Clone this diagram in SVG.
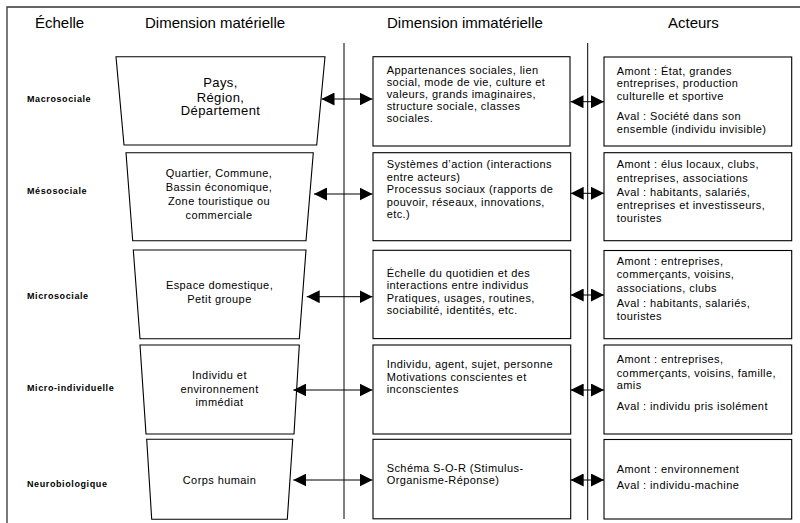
<svg xmlns="http://www.w3.org/2000/svg" width="800" height="523" viewBox="0 0 800 523">
<style>
text{font-family:"Liberation Sans",Arial,sans-serif;fill:#000}
.h{font-size:15px}
.lab{font-size:9px;font-weight:bold;letter-spacing:0.6px}
.t{font-size:11px;letter-spacing:0.42px}
.t14{font-size:13px;letter-spacing:0.4px}
.c{text-anchor:middle}
.shape{fill:#fff;stroke:#000;stroke-width:1.1}
.sep{stroke:#000;stroke-width:1;fill:none}
.arr{stroke:#000;stroke-width:1;fill:none;marker-start:url(#ah);marker-end:url(#ah)}
</style>
<defs>
<marker id="ah" markerUnits="userSpaceOnUse" markerWidth="13" markerHeight="13" refX="13" refY="6.5" orient="auto-start-reverse" viewBox="0 0 13 13">
<path d="M0,0 L13,6.5 L0,13 z" fill="#000"/>
</marker>
</defs>
<rect width="800" height="523" fill="#fff"/>
<path d="M7,530 V7 H810" fill="none" stroke="#333" stroke-width="1.3"/>
<g id="headers">
<text class="h" x="35" y="28">Échelle</text>
<text class="h" x="145" y="28">Dimension matérielle</text>
<text class="h" x="387" y="28">Dimension immatérielle</text>
<text class="h" x="668" y="28">Acteurs</text>
</g>
<g id="separators">
<line class="sep" x1="344" y1="43" x2="344" y2="519"/>
<line class="sep" x1="587.7" y1="43" x2="587.7" y2="520"/>
</g>
<g id="labels">
<text class="lab" x="27" y="101.5">Macrosociale</text>
<text class="lab" x="27" y="194">Mésosociale</text>
<text class="lab" x="27" y="299.3">Microsociale</text>
<text class="lab" x="27" y="390.7">Micro-individuelle</text>
<text class="lab" x="27" y="486.7">Neurobiologique</text>
</g>
<g id="mat-macro">
<polygon class="shape" points="116,56.7 325,56.7 316.7,145 124,145"/>
<text class="t14 c" x="220.5" y="87.3">Pays,</text>
<text class="t14 c" x="220.5" y="101.5">Région,</text>
<text class="t14 c" x="220.5" y="115.3">Département</text>
</g>
<g id="mat-meso">
<polygon class="shape" points="126,152.7 313.3,152.7 306,240.7 132.7,240.7"/>
<text class="t c" x="219" y="177.3">Quartier, Commune,</text>
<text class="t c" x="219" y="191.3">Bassin économique,</text>
<text class="t c" x="219" y="205.3">Zone touristique ou</text>
<text class="t c" x="219" y="219.3">commerciale</text>
</g>
<g id="mat-micro">
<polygon class="shape" points="133.3,250 306,250 299.3,338.7 140,338.7"/>
<text class="t c" x="219.5" y="289.3">Espace domestique,</text>
<text class="t c" x="219.5" y="302.7">Petit groupe</text>
</g>
<g id="mat-indiv">
<polygon class="shape" points="140,345 299.3,345 294,434 146,434"/>
<text class="t c" x="219.5" y="378.5">Individu et</text>
<text class="t c" x="219.5" y="392.5">environnement</text>
<text class="t c" x="219.5" y="406.3">immédiat</text>
</g>
<g id="mat-neuro">
<polygon class="shape" points="146.7,439.3 292.7,439.3 287.3,519.3 151.7,519.3"/>
<text class="t c" x="219.5" y="484">Corps humain</text>
</g>
<g id="imm-macro">
<rect class="shape" x="373" y="56.7" width="197" height="89.3"/>
<text class="t" x="386.7" y="74">Appartenances sociales, lien</text>
<text class="t" x="386.7" y="86">social, mode de vie, culture et</text>
<text class="t" x="386.7" y="97.8">valeurs, grands imaginaires,</text>
<text class="t" x="386.7" y="109.6">structure sociale, classes</text>
<text class="t" x="386.7" y="121.6">sociales.</text>
</g>
<g id="imm-meso">
<rect class="shape" x="373" y="152.7" width="197.7" height="88"/>
<text class="t" x="386.7" y="168.3">Systèmes d’action (interactions</text>
<text class="t" x="386.7" y="180.7">entre acteurs)</text>
<text class="t" x="386.7" y="193.2">Processus sociaux (rapports de</text>
<text class="t" x="386.7" y="205.7">pouvoir, réseaux, innovations,</text>
<text class="t" x="386.7" y="218.2">etc.)</text>
</g>
<g id="imm-micro">
<rect class="shape" x="373" y="250.3" width="197.7" height="88.3"/>
<text class="t" x="386.7" y="276.7">Échelle du quotidien et des</text>
<text class="t" x="386.7" y="289.1">interactions entre individus</text>
<text class="t" x="386.7" y="301.6">Pratiques, usages, routines,</text>
<text class="t" x="386.7" y="314">sociabilité, identités, etc.</text>
</g>
<g id="imm-indiv">
<rect class="shape" x="373" y="345" width="197.7" height="89"/>
<text class="t" x="386.7" y="368.3">Individu, agent, sujet, personne</text>
<text class="t" x="386.7" y="380.7">Motivations conscientes et</text>
<text class="t" x="386.7" y="393.2">inconscientes</text>
</g>
<g id="imm-neuro">
<rect class="shape" x="373" y="439.3" width="197.7" height="79.5"/>
<text class="t" x="386.7" y="471.7">Schéma S-O-R (Stimulus-</text>
<text class="t" x="386.7" y="484.1">Organisme-Réponse)</text>
</g>
<g id="act-macro">
<rect class="shape" x="604" y="57" width="187.7" height="89"/>
<text class="t" x="616.7" y="75">Amont : État, grandes</text>
<text class="t" x="616.7" y="87.4">entreprises, production</text>
<text class="t" x="616.7" y="100">culturelle et sportive</text>
<text class="t" x="616.7" y="120">Aval : Société dans son</text>
<text class="t" x="616.7" y="132.6">ensemble (individu invisible)</text>
</g>
<g id="act-meso">
<rect class="shape" x="604" y="152.7" width="187.7" height="88"/>
<text class="t" x="616.7" y="168.3">Amont : élus locaux, clubs,</text>
<text class="t" x="616.7" y="181.6">entreprises, associations</text>
<text class="t" x="616.7" y="196">Aval : habitants, salariés,</text>
<text class="t" x="616.7" y="209.3">entreprises et investisseurs,</text>
<text class="t" x="616.7" y="221.7">touristes</text>
</g>
<g id="act-micro">
<rect class="shape" x="604" y="250.5" width="187.7" height="88.2"/>
<text class="t" x="616.7" y="265">Amont : entreprises,</text>
<text class="t" x="616.7" y="277.6">commerçants, voisins,</text>
<text class="t" x="616.7" y="291.5">associations, clubs</text>
<text class="t" x="616.7" y="306.6">Aval : habitants, salariés,</text>
<text class="t" x="616.7" y="320">touristes</text>
</g>
<g id="act-indiv">
<rect class="shape" x="604" y="345" width="187.7" height="89"/>
<text class="t" x="616.7" y="363.3">Amont : entreprises,</text>
<text class="t" x="616.7" y="376.6">commerçants, voisins, famille,</text>
<text class="t" x="616.7" y="389.3">amis</text>
<text class="t" x="616.7" y="410">Aval : individu pris isolément</text>
</g>
<g id="act-neuro">
<rect class="shape" x="604" y="439.5" width="187.7" height="79.5"/>
<text class="t" x="616.7" y="472.8">Amont : environnement</text>
<text class="t" x="616.7" y="489.3">Aval : individu-machine</text>
</g>
<g id="connectors">
<line class="arr" x1="321.5" y1="99" x2="372.5" y2="99"/>
<line class="arr" x1="314" y1="194" x2="372.5" y2="194"/>
<line class="arr" x1="306.7" y1="296.7" x2="372.5" y2="296.7"/>
<line class="arr" x1="293.3" y1="390" x2="372.5" y2="390"/>
<line class="arr" x1="293.3" y1="480" x2="372.5" y2="480"/>
<line class="arr" x1="570.5" y1="101.7" x2="604" y2="101.7"/>
<line class="arr" x1="570.7" y1="193.3" x2="604" y2="193.3"/>
<line class="arr" x1="570.7" y1="295" x2="604" y2="295"/>
<line class="arr" x1="570.7" y1="390" x2="604" y2="390"/>
<line class="arr" x1="570.7" y1="480" x2="604" y2="480"/>
</g>
</svg>
